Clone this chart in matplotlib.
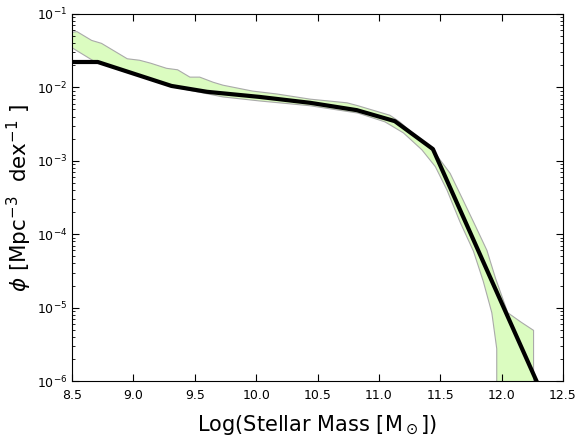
import matplotlib
matplotlib.use("Agg")
import matplotlib.pyplot as plt
import numpy as np

# black line: log10 stellar mass vs log10 phi
mass = [8.40, 8.71, 9.31, 9.60, 10.03, 10.44, 10.82, 11.13, 11.44, 12.30]
log_phi = [-1.654, -1.654, -1.98, -2.06, -2.13, -2.21, -2.31, -2.46, -2.84, -6.06]

# shaded band, upper edge (left to right)
upper_mass = [8.50, 8.54, 8.66, 8.74, 8.95, 9.05, 9.14, 9.27, 9.36, 9.46, 9.54,
              9.65, 9.73, 9.97, 10.17, 10.44, 10.74, 10.83, 11.09, 11.17, 11.39,
              11.46, 11.58, 11.69, 11.79, 11.88, 11.95, 12.05, 12.16, 12.26, 12.26]
upper_log = [-1.25, -1.24, -1.36, -1.40, -1.61, -1.63, -1.67, -1.74, -1.76, -1.86, -1.86,
             -1.93, -1.97, -2.05, -2.09, -2.16, -2.21, -2.25, -2.38, -2.47, -2.79,
             -2.90, -3.17, -3.55, -3.90, -4.22, -4.60, -5.07, -5.20, -5.31, -7.0]

# shaded band, lower edge (left to right)
lower_mass = [8.50, 8.69, 9.31, 9.73, 10.03, 10.44, 10.83, 11.05, 11.20, 11.35,
              11.46, 11.555, 11.66, 11.77, 11.85, 11.92, 11.96, 11.96]
lower_log = [-1.46, -1.654, -1.99, -2.13, -2.185, -2.25, -2.35, -2.47, -2.62, -2.85,
             -3.08, -3.40, -3.83, -4.23, -4.64, -5.07, -5.56, -7.0]

fig = plt.figure(figsize=(5.79, 4.36), dpi=100)
ax = fig.add_axes([0.1244, 0.1261, 0.848, 0.8418])

# polygon: upper edge forward, lower edge backward
poly_x = np.concatenate([upper_mass, lower_mass[::-1]])
poly_y = 10 ** np.concatenate([upper_log, lower_log[::-1]])
ax.fill(poly_x, poly_y, facecolor='#dbfcc0', edgecolor='#aaaaaa', linewidth=0.8)

ax.plot(mass, 10 ** np.array(log_phi), color='black', linewidth=3)

ax.set_yscale('log')
ax.set_xlim(8.5, 12.5)
ax.set_ylim(1e-6, 1e-1)
ax.set_xticks(np.arange(8.5, 12.51, 0.5))
ax.set_xticklabels([f"{v:.1f}" for v in np.arange(8.5, 12.51, 0.5)])

ax.tick_params(which='both', direction='in', top=True, right=True, labelsize=9)
ax.tick_params(which='major', length=5)
ax.tick_params(which='minor', length=2.5)
ax.tick_params(axis='x', pad=6)

ax.set_xlabel(r"Log(Stellar Mass [M$_\odot$])", fontsize=15, labelpad=8)
ax.set_ylabel(r"$\phi$ [Mpc$^{-3}$  dex$^{-1}$ ]", fontsize=15.5, labelpad=2)

fig.savefig("out.png", dpi=100)
